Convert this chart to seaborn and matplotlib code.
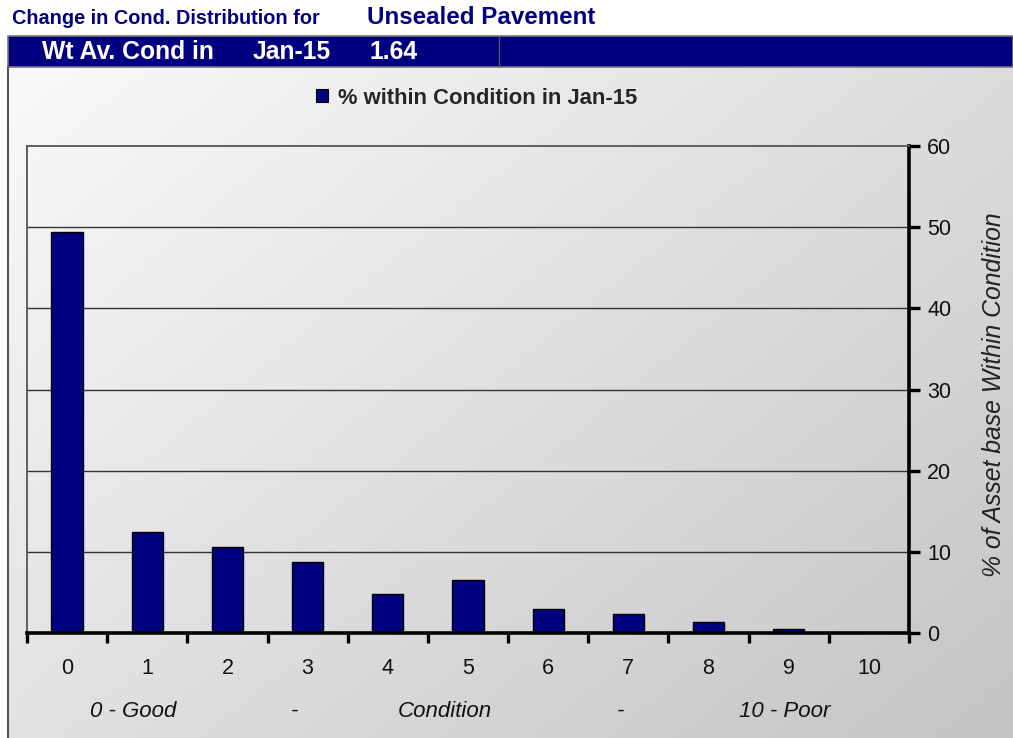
import numpy as np
import pandas as pd
import matplotlib
matplotlib.use("Agg")
import matplotlib.pyplot as plt
from matplotlib.patches import Rectangle, Patch
from matplotlib.lines import Line2D
import seaborn as sns

# Condition distribution data
conditions = ["0", "1", "2", "3", "4", "5", "6", "7", "8", "9", "10"]
pct_within = [49.4, 12.4, 10.6, 8.8, 4.8, 6.5, 3.0, 2.4, 1.3, 0.55, 0.0]
y_ticks = [0, 10, 20, 30, 40, 50, 60]
scale_labels = ["0 - Good", "-", "Condition", "-", "10 - Poor"]
scale_positions = [0.82, 2.84, 4.71, 6.90, 8.95]

asset_name = "Unsealed Pavement"
period = "Jan-15"
wt_avg = "1.64"
series_label = f"% within Condition in {period}"

NAVY = "#000080"
W, H = 1013, 738

sns.set_theme(style="white")
plt.rcParams["font.family"] = ["Liberation Sans", "DejaVu Sans"]

fig = plt.figure(figsize=(W / 100, H / 100), dpi=100)
fig.patch.set_facecolor("white")


def fx(px):
    return px / W


def fy(py):
    return 1 - py / H


# Gradient panel behind the chart
bg = fig.add_axes([fx(8), 0, 1 - fx(8), fy(67)])
gx = np.linspace(0, 1, 200)
gy = np.linspace(0, 1, 200)
GX, GY = np.meshgrid(gx, gy)
grad = 0.55 * GX + 0.45 * GY
bg.imshow(grad, cmap=matplotlib.colors.LinearSegmentedColormap.from_list(
    "bgc", ["#fafafa", "#c4c4c4"]), aspect="auto", extent=[0, 1, 0, 1],
    origin="upper")
bg.set_axis_off()
fig.add_artist(Line2D([fx(8), fx(8)], [0, fy(67)], color="#555555", lw=1.5))

# Header band
fig.add_artist(Rectangle((fx(8), fy(67)), 1 - fx(8), fy(36) - fy(67),
                         facecolor=NAVY, edgecolor="#777777", lw=1.2))
fig.add_artist(Line2D([fx(499), fx(499)], [fy(66), fy(37)], color="#555555", lw=1))

fig.text(fx(12), fy(18), "Change in Cond. Distribution for", color=NAVY,
         fontsize=14.3, fontweight="bold", va="center", ha="left")
fig.text(fx(367), fy(17), asset_name, color=NAVY, fontsize=17.4,
         fontweight="bold", va="center", ha="left")
fig.text(fx(42), fy(52), "Wt Av. Cond in", color="white", fontsize=17.8,
         fontweight="bold", va="center", ha="left")
fig.text(fx(253), fy(52), period, color="white", fontsize=17.8,
         fontweight="bold", va="center", ha="left")
fig.text(fx(369), fy(52), wt_avg, color="white", fontsize=17.8,
         fontweight="bold", va="center", ha="left")

# Main chart
ax = fig.add_axes([fx(27), fy(633), fx(909) - fx(27), fy(146) - fy(633)])
ax.set_facecolor("none")
df = pd.DataFrame({"Condition": conditions, "Pct": pct_within})
sns.barplot(data=df, x="Condition", y="Pct", color=NAVY, saturation=1,
            width=0.39, edgecolor="black", linewidth=1, ax=ax, zorder=3)

ax.set_xlim(-0.5, len(conditions) - 0.5)
ax.set_ylim(0, 60)
ax.set_xlabel("")
ax.yaxis.set_label_position("right")
ax.yaxis.tick_right()
ax.set_yticks(y_ticks)
ax.set_yticklabels([str(t) for t in y_ticks], fontsize=15.5, color="#111111")
ax.tick_params(axis="y", which="major", direction="out", length=8,
               width=2.4, color="black", pad=5, left=False, right=True)
ax.set_ylabel("% of Asset base Within Condition", fontsize=17.8,
              fontstyle="italic", color="#222222", labelpad=22)
ax.yaxis.label.set_y(0.49)

for t in y_ticks[1:-1]:
    ax.axhline(t, color="#333333", lw=1, zorder=1)

# Boundary ticks between categories, labels at category centres
n = len(conditions)
ax.set_xticks(np.arange(-0.5, n, 1.0))
ax.set_xticklabels([])
ax.set_xticks(np.arange(n), minor=True)
ax.set_xticklabels(conditions, minor=True, fontsize=15.5, color="#111111")
ax.tick_params(axis="x", which="major", direction="out", length=7,
               width=2.4, color="black", bottom=True)
ax.tick_params(axis="x", which="minor", length=0, pad=18)

for side in ["top", "left"]:
    ax.spines[side].set_color("#555555")
    ax.spines[side].set_linewidth(1.3)
for side in ["right", "bottom"]:
    ax.spines[side].set_color("black")
    ax.spines[side].set_linewidth(2.6)
ax.spines["bottom"].set_zorder(5)

for lbl, pos in zip(scale_labels, scale_positions):
    ax.text(pos, -0.161, lbl, transform=ax.get_xaxis_transform(),
            ha="center", va="center", fontsize=16, fontstyle="italic",
            color="#111111")

# Legend
handle = Patch(facecolor=NAVY, edgecolor="black", lw=0.8)
fig.legend([handle], [series_label], loc="center left",
           bbox_to_anchor=(fx(296), fy(98)), frameon=False,
           prop={"size": 15.8, "weight": "bold"}, handlelength=0.55,
           handleheight=0.55, handletextpad=0.45)

fig.savefig("out.png", dpi=100)
